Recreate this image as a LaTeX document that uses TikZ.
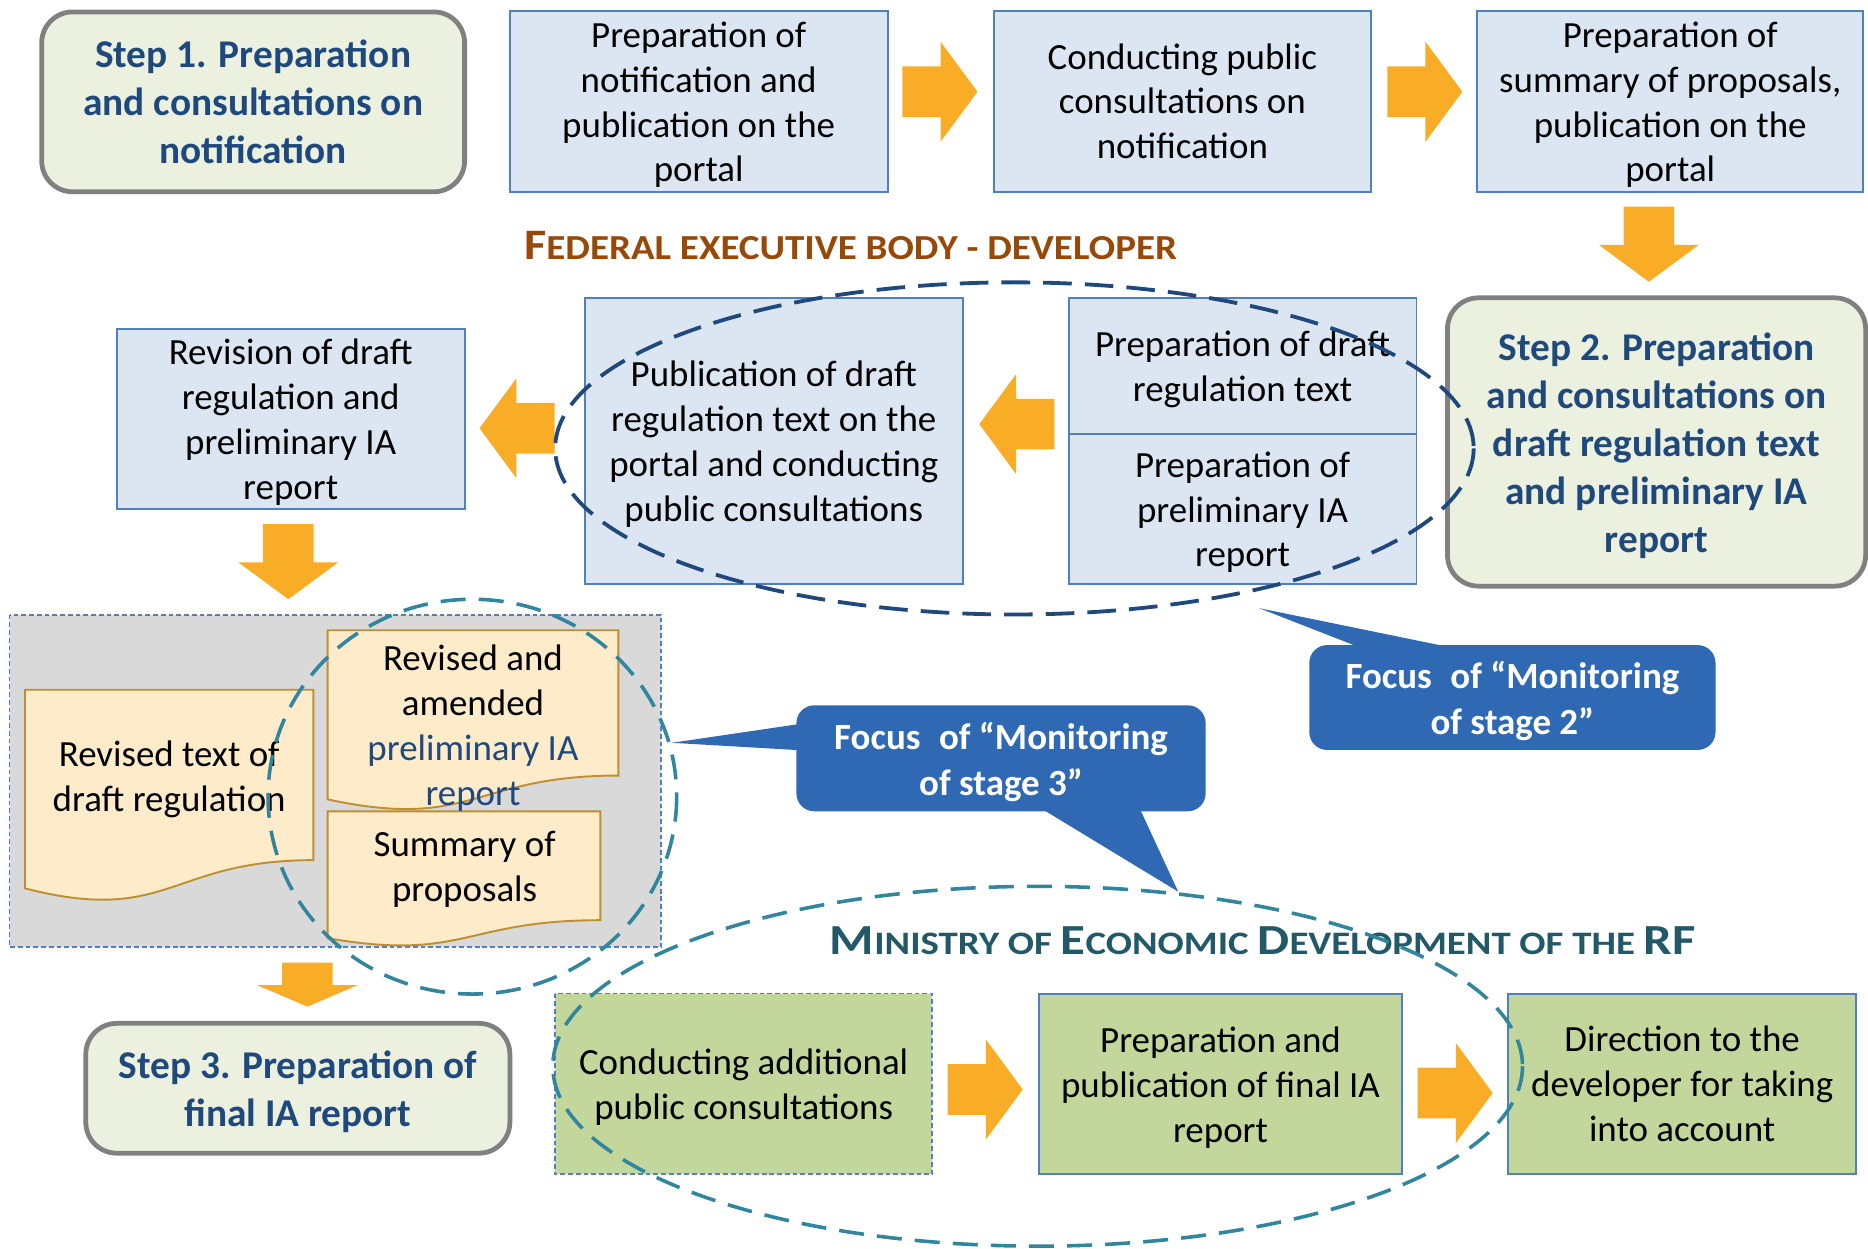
\documentclass[tikz,border=0pt]{standalone}
\usepackage{fontspec}
\usepackage{graphicx}
\setmainfont{Carlito}
\usetikzlibrary{calc}
\definecolor{blueFill}{HTML}{DCE6F2}
\definecolor{blueLine}{HTML}{4F81BD}
\definecolor{stepFill}{HTML}{EBF1DE}
\definecolor{stepLine}{HTML}{808080}
\definecolor{stepText}{HTML}{1F497D}
\definecolor{arrowC}{HTML}{F9AC26}
\definecolor{docFill}{HTML}{FDEBC9}
\definecolor{docLine}{HTML}{BF8F2F}
\definecolor{grayFill}{HTML}{D9D9D9}
\definecolor{greenFill}{HTML}{C3D69B}
\definecolor{callC}{HTML}{2F69B3}
\definecolor{darkEll}{HTML}{1F497D}
\definecolor{tealC}{HTML}{31859C}
\definecolor{brownT}{HTML}{984807}
\definecolor{minT}{HTML}{215968}
\newcommand\bodyfont{\fontsize{31}{37.7}\selectfont}
\newcommand\stepfont{\fontsize{33}{40.2}\selectfont\bfseries}
\newcommand\callfont{\fontsize{31}{38.5}\selectfont\bfseries}
\newcommand\fedBig[1]{{\fontsize{36.5}{36.5}\selectfont #1}}
\newcommand\fedSm[1]{{\fontsize{29.5}{29.5}\selectfont #1}}
\newcommand\minBig[1]{{\fontsize{36}{36}\selectfont #1}}
\newcommand\minSm[1]{{\fontsize{27.5}{27.5}\selectfont #1}}
\tikzset{
  every node/.style={inner sep=0pt, outer sep=0pt},
  bluebox/.style={draw=blueLine, fill=blueFill, line width=1.6pt},
  greenbox/.style={draw=blueLine, fill=greenFill, line width=1.6pt},
  stepbox/.style={draw=stepLine, fill=stepFill, line width=4pt, rounded corners=26pt},
  bodytext/.style={align=center, font=\bodyfont},
  steptext/.style={align=center, font=\stepfont, text=stepText},
  docshape/.style={draw=docLine, fill=docFill, line width=1.6pt},
  callout/.style={fill=callC, rounded corners=15pt},
  calltext/.style={align=center, font=\callfont, text=white},
  callptr/.style={fill=callC},
  finedash/.style={draw=blueLine, line width=1.5pt, dash pattern=on 4pt off 2.5pt},
  ellD/.style={draw=darkEll, line width=3.2pt, dash pattern=on 24pt off 11pt},
  ellT/.style={draw=tealC, line width=3pt, dash pattern=on 21pt off 11pt},
  rarr/.pic={\fill[arrowC] (-31.5,-21.25) -- (0.5,-21.25) -- (0.5,-42) -- (31.5,0) -- (0.5,42) -- (0.5,21.25) -- (-31.5,21.25) -- cycle;},
  larr/.pic={\fill[arrowC] (31.5,-21.25) -- (-0.5,-21.25) -- (-0.5,-42) -- (-31.5,0) -- (-0.5,42) -- (-0.5,21.25) -- (31.5,21.25) -- cycle;},
  darr/.pic={\fill[arrowC] (-21.25,-31.5) -- (-21.25,0.5) -- (-42,0.5) -- (0,31.5) -- (42,0.5) -- (21.25,0.5) -- (21.25,-31.5) -- cycle;},
  flatdarr/.pic={\fill[arrowC] (-21.25,-18.5) -- (-21.25,0.5) -- (-42,0.5) -- (0,18.5) -- (42,0.5) -- (21.25,0.5) -- (21.25,-18.5) -- cycle;},
}
% \tbox{box style}{text style}{name}{x}{y}{w}{h}{text shift}{text}
\newcommand\tbox[9]{%
  \node[#1, minimum width=#6pt, minimum height=#7pt] (#3) at (#4,#5) {};
  \node[#2] (#3-t) at ([yshift=-#8pt]#3.center) {#9};}
\begin{document}
\begin{tikzpicture}[x=1pt,y=-1pt]
\useasboundingbox (0,0) rectangle (1568,1048);
% ---------- top row ----------
\tbox{stepbox}{steptext}{s1}{212.5}{85.5}{355}{151}{0}{Step 1. Preparation\\and consultations on\\notification}
\tbox{bluebox}{bodytext}{A}{586.5}{85}{317}{152}{3}{Preparation of\\notification and\\publication on the\\portal}
\tbox{bluebox}{bodytext}{B}{992.5}{85}{317}{152}{0}{Conducting public\\consultations on\\notification}
\tbox{bluebox}{bodytext}{C}{1402}{85}{324}{152}{3}{Preparation of\\summary of proposals,\\publication on the\\portal}
\pic at (789,77) {rarr};
\pic at (1196,77) {rarr};
\pic at (1384,205) {darr};
% ---------- title ----------
\node[anchor=base, text=brownT, font=\bfseries] (fed) at (714,218) {\scalebox{1.11}[1]{\fedBig{F}\fedSm{EDERAL EXECUTIVE BODY - DEVELOPER}}};
% ---------- second row ----------
\tbox{stepbox}{steptext}{s2}{1390.5}{371}{351}{242}{3}{Step 2. Preparation\\and consultations on\\draft regulation text\\and preliminary IA\\report}
\tbox{bluebox}{bodytext}{Dt}{1043}{307}{292}{114}{3}{Preparation of draft\\regulation text}
\tbox{bluebox}{bodytext}{Db}{1043}{427}{292}{126}{3}{Preparation of\\preliminary IA\\report}
\tbox{bluebox}{bodytext}{E}{649.5}{370}{317}{240}{3}{Publication of draft\\regulation text on the\\portal and conducting\\public consultations}
\tbox{bluebox}{bodytext}{F}{244}{351.5}{292}{151}{3}{Revision of draft\\regulation and\\preliminary IA\\report}
\pic at (853.5,356) {larr};
\pic at (434,359.5) {larr};
\pic at (242,471.5) {darr};
\draw[ellD] (851.5,376.4) ellipse [x radius=385.5, y radius=139.4];
% ---------- documents ----------
\path[fill=grayFill] (8,516) rectangle (555,795);
\path[finedash] (8,516) rectangle (555,795);
\path[docshape] (21,579) -- (263,579) -- (263,722) .. controls (142,722) and (142,776.7) .. (21,745.7) -- cycle;
\path[docshape] (275,529) -- (519,529) -- (519,651) .. controls (397,651) and (397,697.3) .. (275,671) -- cycle;
\path[docshape] (275,681) -- (504,681) -- (504,772.4) .. controls (389.5,772.4) and (389.5,807.3) .. (275,787.5) -- cycle;
\node[bodytext] (d1) at (142,654.5) {Revised text of\\draft regulation};
\node[bodytext] (d2) at (397,611) {Revised and\\amended\\\textcolor{stepText}{preliminary IA}\\\textcolor{stepText}{report}};
\node[bodytext] (d3) at (390,730) {Summary of\\proposals};
\draw[ellT] (396.5,668.7) ellipse [x radius=171.5, y radius=165.7];
\pic at (258,826.5) {flatdarr};
\tbox{stepbox}{steptext}{s3}{250}{913.5}{356}{109}{3}{Step 3. Preparation of\\final IA report}
% ---------- callouts ----------
\tbox{callout}{calltext}{c3}{840.25}{636.5}{343.5}{89}{3}{Focus\hspace{0.5em}of “Monitoring\\of stage 3”}
\fill[callptr] (676,607) -- (564,623.5) -- (676,630) -- cycle;
\fill[callptr] (868,675) -- (989,748.5) -- (955,675) -- cycle;
\tbox{callout}{calltext}{c2}{1269.5}{585.5}{341}{88}{3}{Focus\hspace{0.5em}of “Monitoring\\of stage 2”}
\fill[callptr] (1153,548) -- (1057,510.5) -- (1240,548) -- cycle;
% ---------- ministry ----------
\node[anchor=base, text=minT, font=\bfseries] (min) at (1060,801) {\scalebox{1.185}[1]{\minBig{M}\minSm{INISTRY OF }\minBig{E}\minSm{CONOMIC }\minBig{D}\minSm{EVELOPMENT OF THE }\minBig{RF}}};
\tbox{greenbox, draw=none}{bodytext}{G}{624.25}{909.8}{316.5}{151.6}{3}{Conducting additional\\public consultations}
\path[finedash] (G.north west) rectangle (G.south east);
\tbox{greenbox}{bodytext}{H}{1024.5}{909.8}{305}{151.6}{3}{Preparation and\\publication of final IA\\report}
\tbox{greenbox}{bodytext}{I}{1412}{909.8}{292}{151.6}{0}{Direction to the\\developer for taking\\into account}
\pic at (827,914.5) {rarr};
\pic at (1221.5,917.5) {rarr};
\draw[ellT] (871,895) ellipse [x radius=407, y radius=151];
\end{tikzpicture}
\end{document}
